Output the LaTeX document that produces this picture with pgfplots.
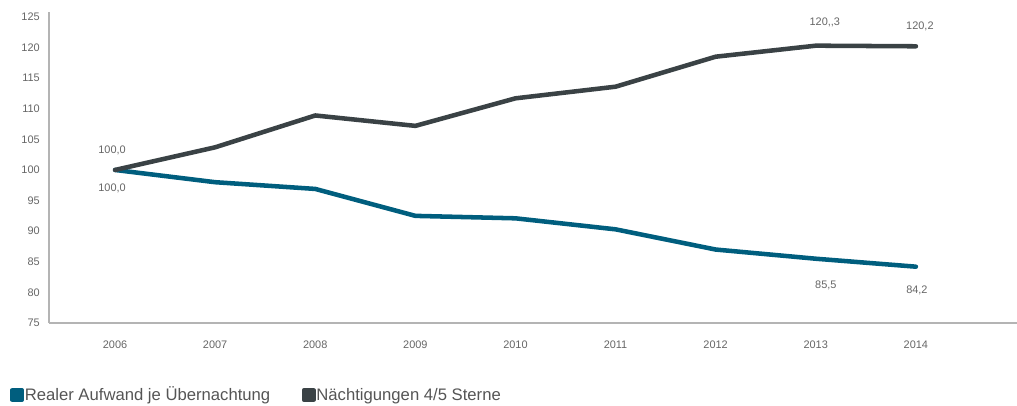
\documentclass[border=0pt]{standalone}
\usepackage{pgfplots}
\pgfplotsset{compat=1.18}
\usepackage{fontspec}
\setmainfont{Liberation Sans}
\definecolor{cblue}{HTML}{005E7E}
\definecolor{cgray}{HTML}{3A4245}
\definecolor{axgray}{HTML}{B4B4B4}
\definecolor{txtgray}{HTML}{666666}
\definecolor{leggray}{HTML}{555555}
\tikzset{lbl/.style={font=\fontsize{8.2}{10}\selectfont, text=txtgray}}
\begin{document}
\begin{tikzpicture}
\path[use as bounding box] (0,0) rectangle (762.75pt,303.75pt);
\begin{axis}[
  at={(36.75pt,61.5pt)}, anchor=south west,
  scale only axis, width=726pt, height=233.25pt,
  xmin=2005.34, xmax=2015.01, ymin=75, ymax=125.8,
  axis x line*=bottom, axis y line*=left,
  axis line style={axgray, line width=0.9pt},
  xtick={2006,2007,...,2014}, ytick={75,80,...,125},
  major tick length=0pt,
  /pgf/number format/assume math mode=true,
  tick label style={font=\fontsize{8.2}{10}\selectfont, text=txtgray},
  xticklabel style={/pgf/number format/1000 sep={}, anchor=center, yshift=-16.5pt},
  yticklabel style={anchor=east, inner sep=0pt, xshift=-6.75pt},
  clip=false,
  legend style={at={(axis description cs:-0.0403,-0.2315)}, anchor=west, draw=none, fill=none,
    inner sep=0pt, outer sep=0pt,
    font=\fontsize{12.5}{15}\selectfont, text=leggray, legend columns=2,
    /tikz/every even column/.append style={column sep=23pt},
    nodes={inner xsep=0.5pt}},
  legend image code/.code={\fill[#1] (0pt,-3.6pt) rectangle (7.2pt,3.6pt);},
]
\addplot[cblue, line width=3.4pt, line cap=round, line join=round] coordinates {
  (2006,100.0) (2007,98.0) (2008,96.9) (2009,92.5) (2010,92.1)
  (2011,90.3) (2012,87.0) (2013,85.5) (2014,84.2)};
\addlegendentry{Realer Aufwand je Übernachtung}
\addplot[cgray, line width=3.4pt, line cap=round, line join=round] coordinates {
  (2006,100.0) (2007,103.7) (2008,108.9) (2009,107.2) (2010,111.7)
  (2011,113.6) (2012,118.5) (2013,120.3) (2014,120.2)};
\addlegendentry{Nächtigungen 4/5 Sterne}
\node[lbl] at (axis cs:2005.97,103.27) {100,0};
\node[lbl] at (axis cs:2005.97,97.06) {100,0};
\node[lbl] at (axis cs:2013.09,124.18) {120{,}{,}3};
\node[lbl] at (axis cs:2014.04,123.37) {120,2};
\node[lbl] at (axis cs:2013.1,81.21) {85,5};
\node[lbl] at (axis cs:2014.01,80.39) {84,2};
\end{axis}
\end{tikzpicture}
\end{document}
